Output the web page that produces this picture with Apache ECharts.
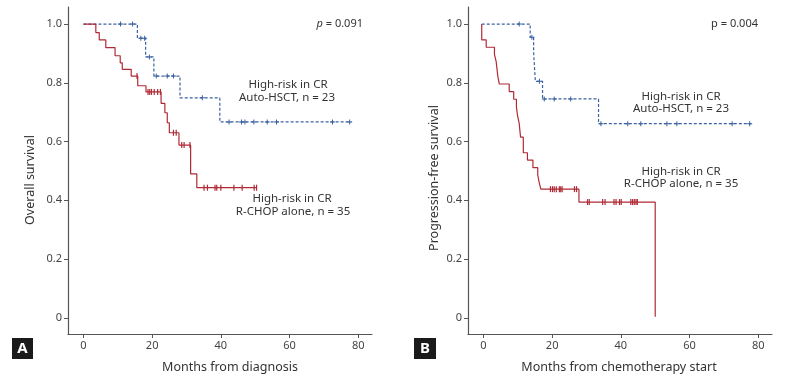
<!DOCTYPE html>
<html><head><meta charset="utf-8">
<script src="https://cdn.jsdelivr.net/npm/echarts@6/dist/echarts.min.js"></script>
<style>html,body{margin:0;padding:0;background:#fff}#c{width:792px;height:381px}</style>
</head><body><div id="c"></div>
<script>
// ---------- DATA ----------
var xTicks = [0, 20, 40, 60, 80];
var yTicks = [0, 0.2, 0.4, 0.6, 0.8, 1.0];

// Panel A: overall survival
var osAutoTimes = [0, 15.7, 18.1, 20.5, 28.1, 39.7, 78];
var osAutoSurv  = [1, 0.952, 0.888, 0.823, 0.749, 0.667, 0.667];
var osAutoCens  = [10.8, 14.3, 16.7, 17.8, 19.2, 21.2, 24.4, 26.2, 34.6, 42.4, 46, 47, 49.6, 53.5, 56.2, 72.5, 77.5];

var osChopTimes = [0, 3.6, 4.6, 6.5, 9.2, 10.7, 11.3, 13.9, 15.8, 18.2, 22.6, 23.7, 24.4, 25, 27.8, 31.2, 33, 50.5];
var osChopSurv  = [1, 0.971, 0.946, 0.92, 0.892, 0.868, 0.846, 0.823, 0.79, 0.769, 0.73, 0.698, 0.664, 0.63, 0.588, 0.49, 0.443, 0.443];
var osChopCens  = [15.6, 18.8, 19.3, 19.8, 20.6, 21.6, 22.4, 26.2, 27, 28.6, 29.3, 31, 35.1, 36.1, 38.3, 38.8, 40, 43.8, 46.2, 49.7, 50.4];

// Panel B: progression-free survival
var pfsAutoTimes = [-0.5, 13.6, 14.6, 15.1, 17.2, 33.5, 78];
var pfsAutoSurv  = [1, 0.955, 0.905, 0.805, 0.745, 0.661, 0.661];
var pfsAutoCens  = [10.4, 14.1, 16.3, 17.7, 20.6, 25.4, 34.2, 42, 45.8, 53.4, 56.3, 72.4, 77.5];

var pfsChopTimes = [-0.5, -0.5, 0.8, 3.2, 3.7, 4.2, 4.6, 7.5, 8.8, 9.6, 9.9, 10.4, 10.8, 11.6, 12.8, 14.4, 15.8, 16.2, 16.7, 27.8, 50];
var pfsChopSurv  = [1, 0.946, 0.921, 0.897, 0.872, 0.821, 0.796, 0.77, 0.744, 0.717, 0.69, 0.662, 0.615, 0.562, 0.537, 0.511, 0.487, 0.462, 0.438, 0.394, 0.004];
var pfsChopCens  = [19.5, 20.1, 20.6, 21.2, 22.1, 22.5, 22.9, 26.5, 27.1, 30.3, 30.8, 34.7, 35.4, 38, 38.6, 39.6, 40.1, 42.9, 43.4, 43.9, 44.4, 44.8];

// ---------- BUILD ----------
var BLUE = '#3b62a0', RED = '#b02a35';
// Kaplan-Meier step path: horizontal at previous value, then vertical drop
function stepPts(t, s){
  var out = [[t[0], s[0]]];
  for (var i=1;i<t.length;i++){ out.push([t[i], s[i-1]]); out.push([t[i], s[i]]); }
  return out;
}
function censPts(c, t, s){
  return c.map(function(ct){
    var v = s[0];
    for (var i=0;i<t.length;i++){ if (t[i] <= ct) v = s[i]; }
    return [ct, v];
  });
}
var PLUS = 'path://M4,0 H6 V4 H10 V6 H6 V10 H4 V6 H0 V4 H4 Z';

function xAx(idx){
  return {gridIndex: idx, type:'value', min:-4.5, max:84,
    axisLine:{onZero:false, lineStyle:{color:'#555', width:1.2}},
    axisTick:{show:true, length:4, customValues:xTicks, lineStyle:{color:'#555'}},
    axisLabel:{customValues:xTicks, color:'#444', fontSize:11, margin:6, fontFamily:'Noto Sans'},
    splitLine:{show:false}};
}
function yAx(idx){
  return {gridIndex: idx, type:'value', min:-0.055, max:1.058,
    axisLine:{show:true, onZero:false, lineStyle:{color:'#555', width:1.2}},
    axisTick:{show:true, length:4, customValues:yTicks, lineStyle:{color:'#555'}},
    axisLabel:{customValues:yTicks, color:'#444', fontSize:11, margin:6, fontFamily:'Noto Sans',
      formatter:function(v){ return v===0 ? '0' : v.toFixed(1); }},
    splitLine:{show:false}};
}
function lineS(idx, t, s, color, dashed){
  return {type:'line', xAxisIndex:idx, yAxisIndex:idx, data:stepPts(t,s),
    showSymbol:false, symbol:'none', silent:true, animation:false, sampling:null,
    lineStyle:{color:color, width:1.2, type: dashed ? [3,2] : 'solid'}, z:2};
}
function censS(idx, pts, color, plus){
  return {type:'scatter', xAxisIndex:idx, yAxisIndex:idx, data:pts, silent:true, animation:false,
    symbol: plus ? PLUS : 'rect', symbolSize: plus ? 5 : [1.2, 6],
    itemStyle:{color:color, opacity:1}, z:3};
}

var txt = {fontFamily:'Noto Sans', fontSize:11.5, fill:'#333'};
function T(x,y,text,extra){
  var st = Object.assign({}, txt, {text:text, x:x, y:y, textAlign:'center', textVerticalAlign:'middle'}, extra||{});
  return {type:'text', style:st, silent:true};
}

var option = {
  animation:false,
  grid:[
    {left:68, top:7, width:304, height:327},
    {left:468, top:7, width:304, height:327}
  ],
  xAxis:[xAx(0), xAx(1)],
  yAxis:[yAx(0), yAx(1)],
  series:[
    lineS(0, osAutoTimes, osAutoSurv, BLUE, true),
    lineS(0, osChopTimes, osChopSurv, RED, false),
    censS(0, censPts(osAutoCens, osAutoTimes, osAutoSurv), BLUE, true),
    censS(0, censPts(osChopCens, osChopTimes, osChopSurv), RED, false),
    lineS(1, pfsAutoTimes, pfsAutoSurv, BLUE, true),
    lineS(1, pfsChopTimes, pfsChopSurv, RED, false),
    censS(1, censPts(pfsAutoCens, pfsAutoTimes, pfsAutoSurv), BLUE, true),
    censS(1, censPts(pfsChopCens, pfsChopTimes, pfsChopSurv), RED, false)
  ],
  graphic:[
    T(230, 367, 'Months from diagnosis', {fontSize:12.5}),
    T(619, 367, 'Months from chemotherapy start', {fontSize:12.5}),
    {type:'text', x:30, y:180, rotation:Math.PI/2, silent:true,
      style:Object.assign({}, txt, {text:'Overall survival', fontSize:12.5, textAlign:'center', textVerticalAlign:'middle'})},
    {type:'text', x:434, y:178, rotation:Math.PI/2, silent:true,
      style:Object.assign({}, txt, {text:'Progression-free survival', fontSize:12.5, textAlign:'center', textVerticalAlign:'middle'})},
    {type:'text', silent:true, style:{x:363, y:24, textAlign:'right', textVerticalAlign:'middle',
      text:'{i|p} = 0.091', fontFamily:'Noto Sans', fontSize:11, fill:'#333',
      rich:{i:{fontStyle:'italic', fontFamily:'Noto Sans', fontSize:11, fill:'#333'}}}},
    {type:'text', silent:true, style:{x:758, y:24, textAlign:'right', textVerticalAlign:'middle',
      text:'p = 0.004', fontFamily:'Noto Sans', fontSize:11, fill:'#333'}},
    T(288, 85, 'High-risk in CR'), T(287, 98, 'Auto-HSCT, n = 23'),
    T(292, 199, 'High-risk in CR'), T(293, 212, 'R-CHOP alone, n = 35'),
    T(681, 97, 'High-risk in CR'), T(681, 109, 'Auto-HSCT, n = 23'),
    T(681, 172, 'High-risk in CR'), T(681, 184, 'R-CHOP alone, n = 35'),
    {type:'rect', silent:true, shape:{x:12, y:338, width:21, height:21}, style:{fill:'#1a1a1a'}},
    T(22.5, 348.5, 'A', {fill:'#fff', fontWeight:'bold', fontSize:15}),
    {type:'rect', silent:true, shape:{x:414, y:338, width:22, height:21}, style:{fill:'#1a1a1a'}},
    T(425, 348.5, 'B', {fill:'#fff', fontWeight:'bold', fontSize:15})
  ]
};
var chart = echarts.init(document.getElementById('c'), null, {renderer:'canvas'});
chart.setOption(option);
</script>
</body></html>
